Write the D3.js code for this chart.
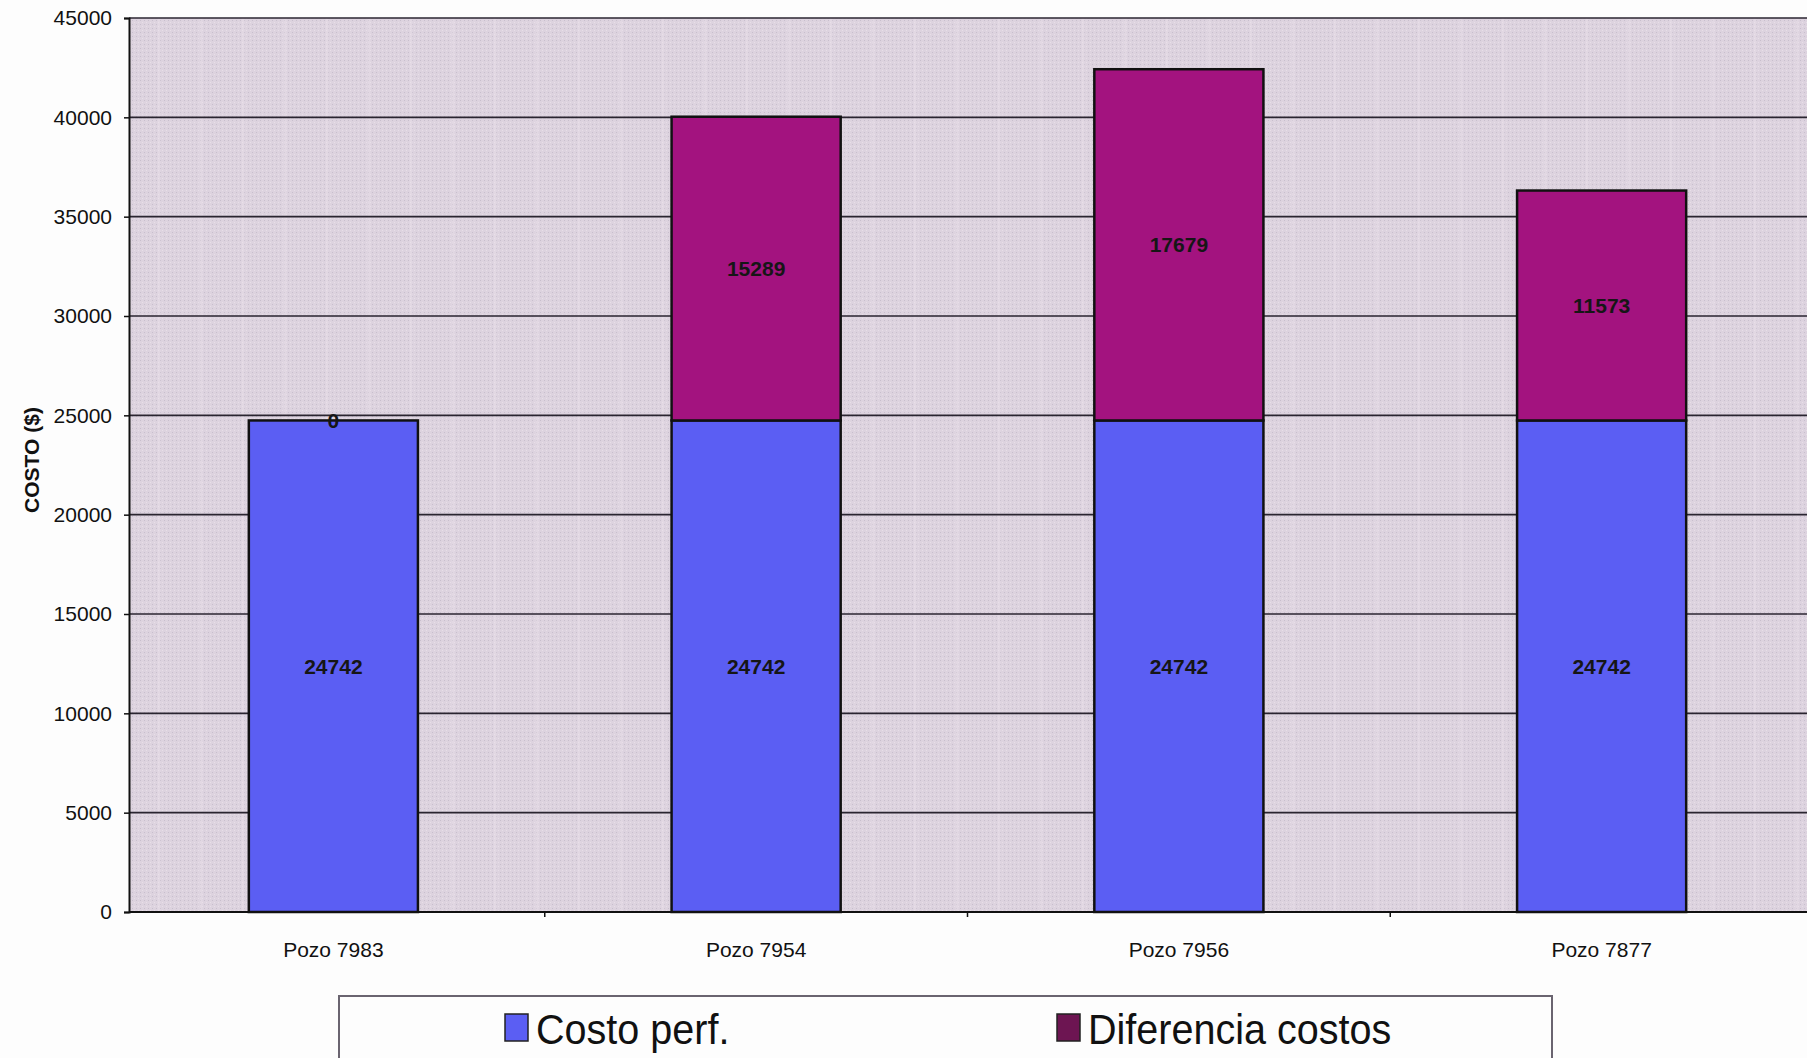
<!DOCTYPE html>
<html>
<head>
<meta charset="utf-8">
<script src="https://cdn.jsdelivr.net/npm/d3@7"></script>
<style>
  html, body { margin: 0; padding: 0; background: #fdfdfd; }
  svg { display: block; }
</style>
</head>
<body>
<svg id="chart" width="1807" height="1058"></svg>
<script>
// Well cost comparison: drilling cost plus the cost difference per well
const categories = ["Pozo 7983", "Pozo 7954", "Pozo 7956", "Pozo 7877"];
const costoPerf = [24742, 24742, 24742, 24742];
const diferenciaCostos = [0, 15289, 17679, 11573];
const seriesNames = ["Costo perf.", "Diferencia costos"];
const yTicks = [0, 5000, 10000, 15000, 20000, 25000, 30000, 35000, 40000, 45000];

const svg = d3.select("#chart");
const W = 1807;
const plot = { left: 129, top: 18, bottom: 912, right: W };

const x = d3.scaleBand()
  .domain(categories)
  .range([122, 1813])
  .paddingInner(0.6)
  .paddingOuter(0.3);

const y = d3.scaleLinear()
  .domain([0, 45000])
  .range([plot.bottom, plot.top]);

const colors = { costo: "#5b5ef3", dif: "#a3137f", difLegend: "#6d1552" };

// plot area background
const defs = svg.append("defs");
const pat = defs.append("pattern")
  .attr("id", "stipple").attr("width", 4).attr("height", 4)
  .attr("patternUnits", "userSpaceOnUse");
pat.append("rect").attr("width", 4).attr("height", 4).attr("fill", "#ddd3df");
pat.append("rect").attr("x", 0).attr("y", 0).attr("width", 1).attr("height", 1).attr("fill", "#c8bfcd");
pat.append("rect").attr("x", 2).attr("y", 2).attr("width", 1).attr("height", 1).attr("fill", "#e8dfe8");

svg.append("rect")
  .attr("x", plot.left).attr("y", plot.top)
  .attr("width", plot.right - plot.left).attr("height", plot.bottom - plot.top)
  .attr("fill", "url(#stipple)");

// faint vertical banding of the plot fill
const bands = d3.range(plot.left + 30, plot.right, 42);
svg.append("g").selectAll("line").data(bands).join("line")
  .attr("x1", d => d).attr("x2", d => d)
  .attr("y1", plot.top).attr("y2", plot.bottom)
  .attr("stroke", "#ece4ec").attr("stroke-width", 3).attr("opacity", 0.35);

// horizontal gridlines
svg.append("g").selectAll("line").data(yTicks.filter(t => t > 0)).join("line")
  .attr("x1", plot.left).attr("x2", plot.right)
  .attr("y1", d => y(d)).attr("y2", d => y(d))
  .attr("stroke", "#2a2530").attr("stroke-width", 1.6);

// stacked bars
const stackData = categories.map((c, i) => ({ cat: c, costo: costoPerf[i], dif: diferenciaCostos[i] }));
const stack = d3.stack().keys(["costo", "dif"])(stackData);

const gBars = svg.append("g");
stack.forEach(layer => {
  gBars.append("g").selectAll("rect").data(layer).join("rect")
    .attr("x", d => x(d.data.cat))
    .attr("width", x.bandwidth())
    .attr("y", d => y(d[1]))
    .attr("height", d => y(d[0]) - y(d[1]))
    .attr("fill", colors[layer.key])
    .attr("stroke", "#111")
    .attr("stroke-width", 2.5);
});

// value labels centred in each segment
stack.forEach(layer => {
  svg.append("g").selectAll("text").data(layer).join("text")
    .attr("x", d => x(d.data.cat) + x.bandwidth() / 2)
    .attr("y", d => y((d[0] + d[1]) / 2))
    .attr("dy", "0.35em")
    .attr("text-anchor", "middle")
    .attr("font-family", "Liberation Sans, Arial, sans-serif")
    .attr("font-weight", "bold")
    .attr("font-size", 21)
    .attr("fill", "#161616")
    .text(d => d.data[layer.key]);
});

// y axis
const yAxis = d3.axisLeft(y).tickValues(yTicks).tickSize(5).tickPadding(12).tickFormat(d3.format("d"));
const gy = svg.append("g").attr("transform", `translate(${plot.left},0)`).call(yAxis);
gy.select(".domain").attr("stroke", "#111").attr("stroke-width", 2);
gy.selectAll(".tick line").attr("stroke", "#111").attr("stroke-width", 1.5);
gy.selectAll("text")
  .attr("font-family", "Liberation Sans, Arial, sans-serif")
  .attr("font-size", 21).attr("fill", "#111");

// x axis
const xAxis = d3.axisBottom(x).tickSize(0).tickPadding(30);
const gx = svg.append("g").attr("transform", `translate(0,${plot.bottom})`).call(xAxis);
gx.select(".domain").remove();
svg.append("line")
  .attr("x1", plot.left).attr("x2", plot.right)
  .attr("y1", plot.bottom).attr("y2", plot.bottom)
  .attr("stroke", "#111").attr("stroke-width", 2);
gx.selectAll("text")
  .attr("font-family", "Liberation Sans, Arial, sans-serif")
  .attr("font-size", 21).attr("fill", "#111");
// small tick marks between categories
svg.append("g").selectAll("line").data(categories.slice(1)).join("line")
  .attr("x1", d => x(d) - x.step() * x.paddingInner() / 2)
  .attr("x2", d => x(d) - x.step() * x.paddingInner() / 2)
  .attr("y1", plot.bottom).attr("y2", plot.bottom + 5)
  .attr("stroke", "#111").attr("stroke-width", 1.5);

// y axis title
svg.append("text")
  .attr("transform", `translate(32,460) rotate(-90)`)
  .attr("text-anchor", "middle")
  .attr("dy", "0.35em")
  .attr("font-family", "Liberation Sans, Arial, sans-serif")
  .attr("font-weight", "bold")
  .attr("font-size", 21)
  .attr("fill", "#111")
  .text("COSTO ($)");

// legend
const legend = svg.append("g");
legend.append("rect")
  .attr("x", 339).attr("y", 996).attr("width", 1213).attr("height", 80)
  .attr("fill", "#fdfdfd").attr("stroke", "#6a6470").attr("stroke-width", 2);
const legendItems = [
  { name: seriesNames[0], color: colors.costo, sx: 505 },
  { name: seriesNames[1], color: colors.difLegend, sx: 1057 }
];
legendItems.forEach(it => {
  legend.append("rect")
    .attr("x", it.sx).attr("y", 1014).attr("width", 23).attr("height", 27)
    .attr("fill", it.color).attr("stroke", "#222").attr("stroke-width", 1.5);
  legend.append("text")
    .attr("transform", `translate(${it.sx + 31},1044) scale(0.92,1)`)
    .attr("font-family", "Liberation Sans Narrow, Arial Narrow, Liberation Sans, Arial, sans-serif")
    .attr("font-size", 43)
    .attr("fill", "#111")
    .text(it.name);
});
</script>
</body>
</html>
